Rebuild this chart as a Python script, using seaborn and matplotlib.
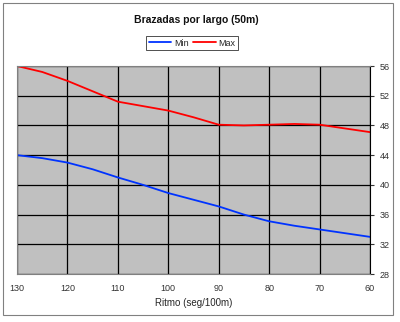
import matplotlib
matplotlib.use("Agg")
import matplotlib.pyplot as plt
import seaborn as sns
import pandas as pd
from matplotlib.lines import Line2D
from matplotlib.patches import Rectangle

# Pace (seconds per 100 m) and strokes per 50 m length
ritmo = [130, 125, 120, 115, 110, 105, 100, 95, 90, 85, 80, 75, 70, 65, 60]
brazadas_min = [44.0, 43.6, 43.0, 42.1, 41.0, 40.0, 38.9, 38.0, 37.1, 36.0, 35.1, 34.5, 34.0, 33.5, 33.0]
brazadas_max = [56.0, 55.2, 54.0, 52.6, 51.2, 50.6, 50.0, 49.1, 48.1, 48.0, 48.1, 48.2, 48.1, 47.6, 47.1]
series_names = ["Min", "Max"]
x_ticks = [130, 120, 110, 100, 90, 80, 70, 60]
y_ticks = [28, 32, 36, 40, 44, 48, 52, 56]

df = pd.DataFrame({
    "Ritmo": ritmo * 2,
    "Brazadas": brazadas_min + brazadas_max,
    "Serie": [series_names[0]] * len(ritmo) + [series_names[1]] * len(ritmo),
})

sns.set_theme(style="white")
plt.rcParams["font.family"] = ["Liberation Sans", "DejaVu Sans"]

fig = plt.figure(figsize=(4.0, 3.22), dpi=100)
fig.patch.set_facecolor("white")
ax = fig.add_axes([0.0425, 0.149, 0.8825, 0.646])
ax.set_facecolor("#C0C0C0")

sns.lineplot(data=df, x="Ritmo", y="Brazadas", hue="Serie",
             palette={"Min": "#0033FF", "Max": "#FF0000"},
             linewidth=1.3, ax=ax, legend=False)

ax.set_xlim(130, 60)
ax.set_ylim(28, 56)
ax.set_xticks(x_ticks)
ax.set_yticks(y_ticks)
ax.yaxis.tick_right()
ax.grid(True, color="black", linewidth=0.9)
ax.set_axisbelow(True)
ax.tick_params(axis="y", which="both", right=True, length=3, width=0.8,
               colors="#333333", labelsize=6.5, pad=4)
ax.tick_params(axis="x", length=0, labelsize=6.5, colors="#333333", pad=7)
for side in ["left", "top", "bottom"]:
    ax.spines[side].set_color("#808080")
    ax.spines[side].set_linewidth(0.8)
ax.spines["right"].set_color("black")
ax.spines["right"].set_linewidth(0.8)

ax.set_xlabel("Ritmo (seg/100m)", fontsize=7, labelpad=4)
ax.set_ylabel("")

fig.text(0.49, 0.937, "Brazadas por largo (50m)", ha="center", va="center",
         fontsize=7.5, fontweight="bold", color="#111111")

handles = [Line2D([], [], color="#0033FF", linewidth=1.3),
           Line2D([], [], color="#FF0000", linewidth=1.3)]
leg = fig.legend(handles, series_names, loc="center", bbox_to_anchor=(0.48, 0.866),
                 ncol=2, fontsize=6.5, frameon=True, fancybox=False,
                 handlelength=2.5, handletextpad=0.3, columnspacing=0.5,
                 borderpad=0.3, edgecolor="black")
leg.get_frame().set_linewidth(0.6)

# Outer chart frame
fig.patches.append(Rectangle((0.0075, 0.0217), 0.975, 0.969, transform=fig.transFigure,
                             fill=False, edgecolor="#808080", linewidth=0.8))

fig.savefig("out.png", dpi=100)
